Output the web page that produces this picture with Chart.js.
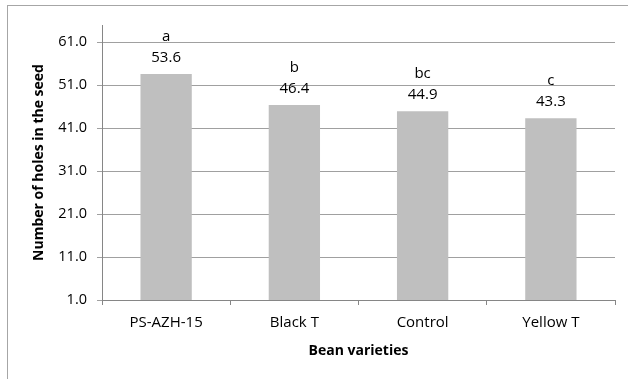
<!DOCTYPE html>
<html>
<head>
<meta charset="utf-8">
<script src="https://cdn.jsdelivr.net/npm/chart.js@4"></script>
<style>
  html, body { margin: 0; padding: 0; background: #fff; }
  #wrap { position: relative; width: 628px; height: 379px; overflow: hidden; }
  #frame { position: absolute; left: 7px; top: 5px; width: 640px; height: 400px;
           border-left: 1px solid #a6a6a6; border-top: 1px solid #a6a6a6; }
  canvas { position: absolute; left: 0; top: 0; }
</style>
</head>
<body>
<div id="wrap">
  <div id="frame"></div>
  <canvas id="chart" width="628" height="379"></canvas>
</div>
<script>
// bean varieties vs. holes per seed, with significance letters
const varieties = ['PS-AZH-15', 'Black T', 'Control', 'Yellow T'];
const holes = [53.6, 46.4, 44.9, 43.3];
const letters = ['a', 'b', 'bc', 'c'];
const yTicks = [1, 11, 21, 31, 41, 51, 61];

const FONT = "'Open Sans', 'Noto Sans', sans-serif";
const INK = '#000';

// value + letter above each bar
const barLabels = {
  id: 'barLabels',
  afterDatasetsDraw(chart) {
    const ctx = chart.ctx;
    const meta = chart.getDatasetMeta(0);
    ctx.save();
    ctx.fillStyle = INK;
    ctx.textAlign = 'center';
    ctx.textBaseline = 'alphabetic';
    ctx.font = '15px ' + FONT;
    meta.data.forEach((bar, i) => {
      ctx.fillText(holes[i].toFixed(1), bar.x, bar.y - 12);
      ctx.fillText(letters[i], bar.x, bar.y - 33);
    });
    ctx.restore();
  }
};

new Chart(document.getElementById('chart'), {
  type: 'bar',
  data: {
    labels: varieties,
    datasets: [{
      data: holes,
      backgroundColor: '#bfbfbf',
      borderWidth: 0,
      barPercentage: 0.4,
      categoryPercentage: 1
    }]
  },
  options: {
    responsive: false,
    animation: false,
    layout: { padding: { top: 25, right: 13, left: 0, bottom: 0 } },
    plugins: { legend: { display: false }, tooltip: { enabled: false } },
    scales: {
      x: {
        afterFit(s) { s.height = 79; },
        grid: { offset: true, drawOnChartArea: false, drawTicks: true, tickLength: 5, color: '#868686' },
        border: { display: true, color: '#868686' },
        ticks: { color: INK, font: { family: FONT, size: 15 }, padding: 9 },
        title: { display: true, text: 'Bean varieties', color: INK,
                 font: { family: FONT, size: 14, weight: 'bold' }, padding: { top: 0, bottom: 20 } }
      },
      y: {
        min: 1,
        max: 65,
        afterFit(s) { s.width = 102; },
        afterBuildTicks(s) { s.ticks = yTicks.map(v => ({ value: v })); },
        grid: { color: '#a0a0a0', drawTicks: true, tickLength: 5 },
        border: { display: true, color: '#868686' },
        ticks: { color: INK, font: { family: FONT, size: 14.5 }, padding: 10,
                 callback: v => Number(v).toFixed(1) },
        title: { display: true, text: 'Number of holes in the seed', color: INK,
                 font: { family: FONT, size: 14, weight: 'bold' }, padding: { top: 31, bottom: 0 } }
      }
    }
  },
  plugins: [barLabels]
});
</script>
</body>
</html>
